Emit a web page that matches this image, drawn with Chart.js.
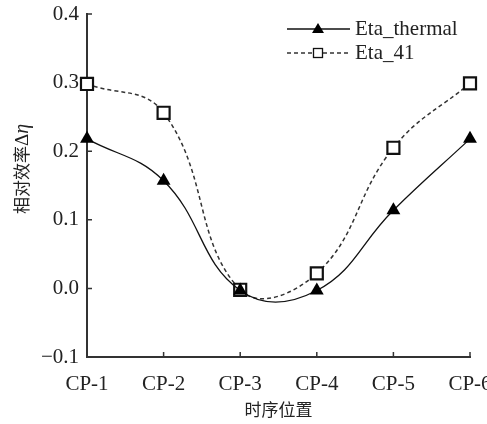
<!DOCTYPE html>
<html>
<head>
<meta charset="utf-8">
<script src="https://cdn.jsdelivr.net/npm/chart.js@4/dist/chart.umd.min.js"></script>
<style>
html,body{margin:0;padding:0;background:#fff;}
#wrap{width:487px;height:424px;position:relative;}
</style>
</head>
<body>
<div id="wrap"><canvas id="c" width="487" height="424"></canvas></div>
<script>
const categories = ['CP-1','CP-2','CP-3','CP-4','CP-5','CP-6'];
const etaThermal = [0.218, 0.157, -0.003, -0.003, 0.114, 0.218];
const eta41 = [0.298, 0.256, -0.002, 0.022, 0.205, 0.299];
const seriesNames = ['Eta_thermal', 'Eta_41'];
const yTickValues = [-0.1, 0.0, 0.1, 0.2, 0.3, 0.4];
const yTickLabels = ['\u22120.1', '0.0', '0.1', '0.2', '0.3', '0.4'];
const xTitle = '时序位置';
const yTitleParts = ['相对效率', 'Δ', 'η'];

const INK = '#222';
const SERIF = '"Liberation Serif", "Times New Roman", serif';
const CJK = '"Noto Sans CJK SC", sans-serif';

const innerTicks = {
  id: 'innerTicks',
  beforeDatasetsDraw(chart) {
    const ctx = chart.ctx;
    const xs = chart.scales.x, ys = chart.scales.y;
    ctx.save();
    ctx.strokeStyle = '#333';
    ctx.lineWidth = 1.5;
    ctx.beginPath();
    xs.ticks.forEach((t, i) => {
      const px = xs.getPixelForTick(i);
      ctx.moveTo(px, ys.bottom);
      ctx.lineTo(px, ys.bottom - 5);
    });
    ys.ticks.forEach((t, i) => {
      const py = ys.getPixelForTick(i);
      ctx.moveTo(xs.left, py);
      ctx.lineTo(xs.left + 5, py);
    });
    ctx.stroke();
    ctx.restore();
  }
};

const yTitlePlugin = {
  id: 'yTitlePlugin',
  afterDraw(chart) {
    const ctx = chart.ctx;
    ctx.save();
    ctx.fillStyle = INK;
    ctx.translate(22, 169);
    ctx.rotate(-Math.PI / 2);
    ctx.textBaseline = 'middle';
    const fonts = ['17px ' + CJK, '19px ' + SERIF, 'italic 20px ' + SERIF];
    let widths = yTitleParts.map((p, i) => { ctx.font = fonts[i]; return ctx.measureText(p).width; });
    const total = widths.reduce((a, b) => a + b, 0);
    let x = -total / 2;
    yTitleParts.forEach((p, i) => {
      ctx.font = fonts[i];
      ctx.textAlign = 'left';
      ctx.fillText(p, x, i === 0 ? 0 : 1);
      x += widths[i];
    });
    ctx.restore();
  }
};

const legendPlugin = {
  id: 'legendPlugin',
  afterDraw(chart) {
    const ctx = chart.ctx;
    ctx.save();
    const x0 = 287, x1 = 350, xm = 318;
    const rows = [29, 53];
    ctx.strokeStyle = '#111';
    ctx.lineWidth = 1.3;
    ctx.beginPath(); ctx.moveTo(x0, rows[0]); ctx.lineTo(x1, rows[0]); ctx.stroke();
    ctx.fillStyle = '#000';
    ctx.beginPath();
    ctx.moveTo(xm, rows[0] - 6); ctx.lineTo(xm + 6, rows[0] + 4); ctx.lineTo(xm - 6, rows[0] + 4); ctx.closePath(); ctx.fill();
    ctx.setLineDash([4, 3]);
    ctx.strokeStyle = '#333';
    ctx.lineWidth = 1.3;
    ctx.beginPath(); ctx.moveTo(x0, rows[1]); ctx.lineTo(xm - 5, rows[1]); ctx.moveTo(xm + 5, rows[1]); ctx.lineTo(x1, rows[1]); ctx.stroke();
    ctx.setLineDash([]);
    ctx.lineWidth = 1.3;
    ctx.strokeStyle = '#111';
    ctx.fillStyle = '#fff';
    ctx.fillRect(xm - 4.5, rows[1] - 4.5, 9, 9);
    ctx.strokeRect(xm - 4.5, rows[1] - 4.5, 9, 9);
    ctx.fillStyle = INK;
    ctx.font = '21px ' + SERIF;
    ctx.textBaseline = 'middle';
    ctx.textAlign = 'left';
    ctx.fillText(seriesNames[0], 355, rows[0]);
    ctx.fillText(seriesNames[1], 355, rows[1]);
    ctx.restore();
  }
};

new Chart(document.getElementById('c'), {
  type: 'line',
  data: {
    labels: categories,
    datasets: [
      {
        label: seriesNames[1],
        data: eta41,
        borderColor: '#333',
        borderWidth: 1.5,
        borderDash: [4, 3],
        tension: 0.42,
        pointStyle: 'rect',
        pointRadius: 8.5,
        pointHoverRadius: 8.5,
        pointBorderWidth: 2.2,
        pointBorderColor: '#111',
        pointBackgroundColor: '#fff',
        fill: false,
        order: 2
      },
      {
        label: seriesNames[0],
        data: etaThermal,
        borderColor: '#111',
        borderWidth: 1.3,
        tension: 0.42,
        pointStyle: 'triangle',
        pointRadius: 8,
        pointHoverRadius: 8,
        pointBorderWidth: 0,
        pointBackgroundColor: '#000',
        pointBorderColor: '#000',
        fill: false,
        order: 1
      }
    ]
  },
  options: {
    responsive: false,
    animation: false,
    events: [],
    layout: { padding: { top: 14, right: 17, left: 0, bottom: 0 } },
    plugins: { legend: { display: false }, tooltip: { enabled: false } },
    scales: {
      x: {
        type: 'category',
        offset: false,
        grid: { display: false, drawTicks: false },
        border: { display: true, color: '#333', width: 2 },
        ticks: {
          color: INK,
          font: { family: SERIF, size: 21 },
          padding: 15,
          maxRotation: 0,
          autoSkip: false
        },
        title: {
          display: true,
          text: xTitle,
          color: INK,
          font: { family: CJK, size: 17 },
          padding: { top: 4, bottom: 4 }
        },
        afterFit(scale) {
          scale.height = 67;
          scale.paddingLeft = 0;
          scale.paddingRight = 0;
        }
      },
      y: {
        type: 'linear',
        min: -0.1,
        max: 0.4,
        grid: { display: false, drawTicks: false },
        border: { display: true, color: '#333', width: 2 },
        afterBuildTicks(scale) { scale.ticks = yTickValues.map(v => ({ value: v })); },
        ticks: {
          color: INK,
          font: { family: SERIF, size: 21 },
          padding: 8,
          callback(value) {
            const i = yTickValues.findIndex(v => Math.abs(v - value) < 1e-9);
            return i >= 0 ? yTickLabels[i] : '';
          }
        },
        afterFit(scale) {
          scale.width = 87;
          scale.paddingTop = 0;
          scale.paddingBottom = 0;
        }
      }
    }
  },
  plugins: [innerTicks, yTitlePlugin, legendPlugin]
});
</script>
</body>
</html>
